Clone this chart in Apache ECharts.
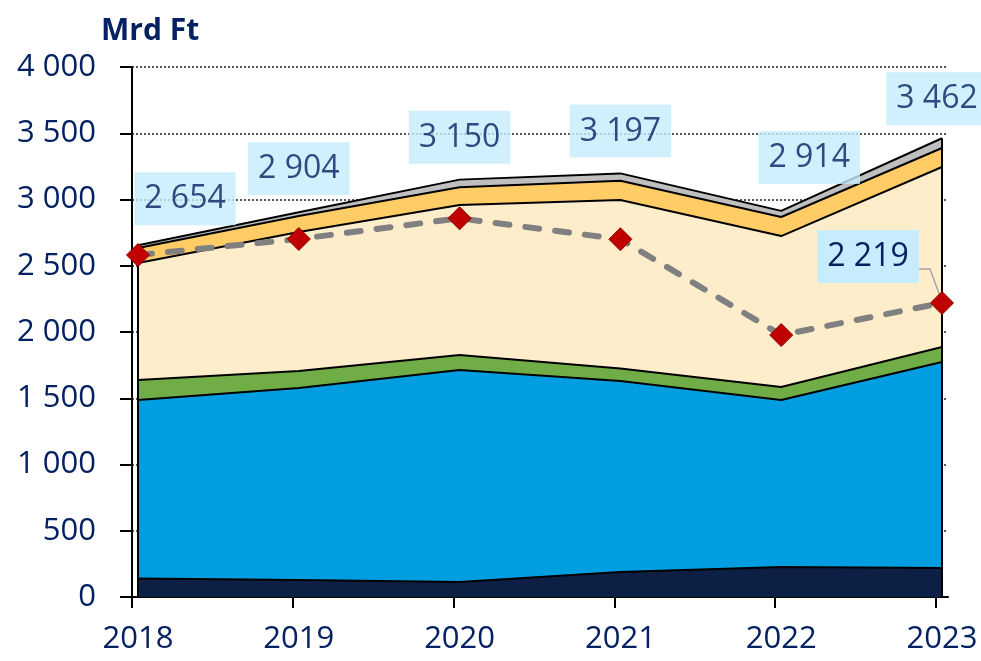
<!DOCTYPE html>
<html>
<head>
<meta charset="utf-8">
<script src="https://cdn.jsdelivr.net/npm/echarts@6/dist/echarts.min.js"></script>
<style>
  html, body { margin: 0; padding: 0; background: #fff; }
  #chart { width: 981px; height: 661px; }
</style>
</head>
<body>
<div id="chart"></div>
<script>
// ── Data (Mrd Ft) ────────────────────────────────────────────
const YEARS  = ['2018', '2019', '2020', '2021', '2022', '2023'];
const NAVY   = [140, 128, 113, 189, 226, 219];
const BLUE   = [1347, 1449, 1600, 1441, 1261, 1555];
const GREEN  = [151, 129, 113, 95, 98, 113];
const CREAM  = [883, 1049, 1132, 1271, 1139, 1358];
const ORANGE = [113, 120, 134, 146, 144, 144];
const GRAY   = [20, 29, 58, 55, 46, 73];
const TOTAL  = [2654, 2904, 3150, 3197, 2914, 3462];
const DASHED = [2581, 2702, 2858, 2700, 1977, 2219];

// label nudges (px) for the total boxes
const TOTAL_SHIFT = [[47, -15], [0, -12], [0, -11], [0, -11], [28, -22], [-5, -8]];
const LINE_SHIFT  = [-74, -3];

// ── Style ────────────────────────────────────────────────────
const TEXT  = '#042262';
const FONT  = '"Open Sans", "Noto Sans", sans-serif';
const BOXBG = '#c6ecfd';
const OFF   = 6 / 160.8;   // ticks sit a little left of the data points

const fmt = v => String(v).replace(/\B(?=(\d{3})+(?!\d))/g, ' ');

// layers bottom → top, stacked by hand (each area filled down to 0)
const LAYERS = [
  ['navy',   NAVY,   '#0e1f46'],
  ['blue',   BLUE,   '#009ee0'],
  ['green',  GREEN,  '#70ad47'],
  ['cream',  CREAM,  '#feedcb'],
  ['orange', ORANGE, '#ffcc66'],
  ['gray',   GRAY,   '#bfbfbf'],
];
let run = YEARS.map(() => 0);
const cumulative = LAYERS.map(([name, vals, color]) => {
  run = run.map((s, i) => s + vals[i]);
  return { name, color, tops: run.slice() };
});

const boxLabel = {
  show: true,
  position: 'top',
  distance: 5,
  color: TEXT,
  fontFamily: FONT,
  fontSize: 32,
  lineHeight: 40,
  backgroundColor: BOXBG,
  padding: [7, 10, 6, 10],
};

// drawn top layer first so lower layers paint over it
const areaSeries = cumulative.slice().reverse().map(({ name, color, tops }) => ({
  name, type: 'line',
  data: tops.map((v, i) => [i, v]),
  symbol: 'none', silent: true,
  lineStyle: { color: '#000', width: 2 },
  areaStyle: { color, opacity: 1, origin: 'start' },
  z: 2,
}));

const edge = i => ({
  type: 'line', data: [[i, 0], [i, TOTAL[i]]],
  symbol: 'none', silent: true,
  lineStyle: { color: '#000', width: 2 }, z: 3,
});

// total labels, carried by an invisible scatter sitting on the totals
const totalLabels = {
  type: 'scatter', z: 6, silent: true,
  symbolSize: 0,
  data: TOTAL.map((v, i) => ({
    value: [i, v],
    label: { ...boxLabel, offset: TOTAL_SHIFT[i], formatter: () => fmt(v) },
  })),
};

const chart = echarts.init(document.getElementById('chart'), null, { renderer: 'canvas' });

chart.setOption({
  backgroundColor: '#fff',
  animation: false,
  title: {
    text: 'Mrd Ft', left: 96, top: 11,
    textStyle: { color: TEXT, fontFamily: FONT, fontSize: 30, fontWeight: 'bold' },
  },
  grid: { left: 132, right: 33, top: 67, bottom: 64, outerBoundsMode: 'none' },
  xAxis: {
    type: 'value', min: -OFF, max: 5 + OFF,
    axisLine: { show: true, onZero: false, lineStyle: { color: '#000', width: 2 } },
    axisTick: {
      show: true, length: 11, inside: false,
      customValues: YEARS.map((_, i) => i - OFF),
      lineStyle: { color: '#000', width: 2 },
    },
    axisLabel: {
      customValues: YEARS.map((_, i) => i),
      formatter: v => YEARS[Math.round(v)],
      color: TEXT, fontFamily: FONT, fontSize: 31, margin: 27,
    },
    splitLine: { show: false },
  },
  yAxis: {
    type: 'value', min: 0, max: 4000, interval: 500,
    axisLine: { show: true, onZero: false, lineStyle: { color: '#000', width: 2 } },
    axisTick: { show: true, length: 12, lineStyle: { color: '#000', width: 2 } },
    axisLabel: {
      formatter: v => fmt(v),
      color: TEXT, fontFamily: FONT, fontSize: 31, margin: 36,
    },
    splitLine: { show: true, lineStyle: { color: '#222', width: 1.5, type: [2, 2] } },
  },
  series: [
    ...areaSeries,
    edge(0),
    edge(5),
    {
      name: 'dashed', type: 'line', z: 5,
      data: DASHED.map((v, i) => i === 5
        ? { value: [i, v], label: { ...boxLabel, offset: LINE_SHIFT, formatter: () => fmt(v) } }
        : [i, v]),
      symbol: 'diamond', symbolSize: 23,
      itemStyle: { color: '#c00000', borderColor: '#900000', borderWidth: 1 },
      lineStyle: { color: '#808080', width: 6, type: [14, 16], cap: 'round' },
      label: { show: false },
    },
    totalLabels,
  ],
});

// leader line from the last dashed point to its label box
const last = DASHED.length - 1;
const [px, py] = chart.convertToPixel({ gridIndex: 0 }, [last, DASHED[last]]);
const boxMidY = py - 5 - 26 + LINE_SHIFT[1];
chart.setOption({
  graphic: [{
    type: 'polyline', z: 4, silent: true,
    shape: { points: [[px - 1, py - 4], [px - 12, boxMidY], [px - 23, boxMidY]] },
    style: { stroke: '#a6a6a6', lineWidth: 1.5, fill: null },
  }],
});
</script>
</body>
</html>
